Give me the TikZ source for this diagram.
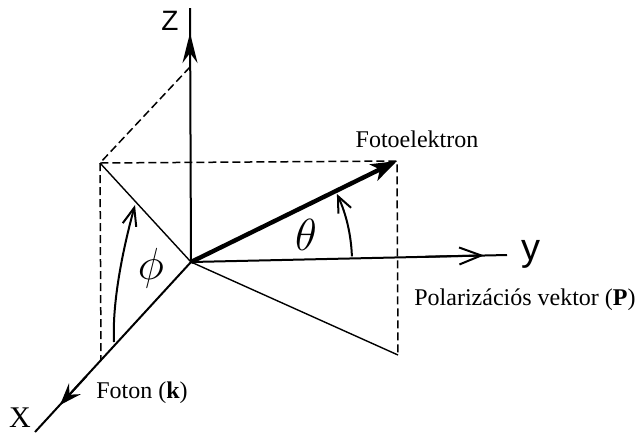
\documentclass[tikz,border=0pt]{standalone}
\usepackage{fontspec}
\setmainfont{Liberation Serif}
\newfontfamily\axfont{Liberation Sans}
\usetikzlibrary{arrows.meta,calc}
\begin{document}
\begin{tikzpicture}[x=0.5pt,y=-0.5pt,
  axis/.style={line width=1pt},
  thinline/.style={line width=0.7pt},
  arcline/.style={line width=1pt},
  dashline/.style={line width=0.75pt, dash pattern=on 4pt off 2pt},
  lbl/.style={font=\fontsize{12}{14}\selectfont, inner sep=0pt},
  axlbl/.style={inner sep=0pt}]
\useasboundingbox (0,0) rectangle (637,436);
% points
\coordinate (O) at (191,262);
\coordinate (ztop) at (190,8);
\coordinate (ztip) at (190,33);
\coordinate (zbase) at (190,62);
\coordinate (xend) at (35,432);
\coordinate (xtip) at (60,405);
\coordinate (yend) at (507,255);
\coordinate (ytip) at (484,255.4);
\coordinate (A) at (100,163);
\coordinate (B) at (397,161);
\coordinate (C) at (398,355);
\coordinate (Ax) at (101,360);
\coordinate (Az) at (190,67);
\coordinate (phis) at (114,342);
\coordinate (phie) at (135,205);
% dashed construction lines
\draw[dashline] (Az) -- (A) -- (B) -- (C);
\draw[dashline] (A) -- (Ax);
% thin projection lines
\draw[thinline] (A) -- (O) -- (C);
% axes
\draw[axis] (O) -- (ztop);
\draw[axis,-{Stealth[length=15pt,width=7.5pt,inset=5pt]}] (zbase) -- (ztip);
\draw[axis] (O) -- (xend);
\draw[axis,-{Stealth[length=11pt,width=8pt,inset=4pt]}] ($(O)!0.8!(xtip)$) -- (xtip);
\draw[axis] (O) -- (yend);
\draw[axis,-{Straight Barb[length=11pt,width=8.5pt]}] ($(O)!0.8!(ytip)$) -- (ytip);
% photoelectron vector
\draw[line width=2.2pt,-{Stealth[length=13pt,width=9pt,inset=3.5pt]}] (O) -- (B);
% angle arcs
\draw[arcline,-{Straight Barb[length=8pt,width=7pt]}] (O) ++(-2:161) arc (-2:-25:161);
\draw[arcline,-{Straight Barb[length=9pt,width=7pt]}] (phis) .. controls (112,300) and (124,245) .. (phie);
% labels
\node[lbl] (fe) at (417,139) {Fotoelektron};
\node[lbl] (fk) at (142,393) {Foton (\textbf{k})};
\node[lbl, anchor=east] (pv) at (636,300) {Polarizációs vektor (\textbf{P})};
\node[axlbl, font=\axfont\fontsize{14}{14}\selectfont] (zl) at (170,21) {Z};
\node[axlbl, font=\fontsize{15}{15}\selectfont] (xl) at (20,418) {X};
\node[axlbl, font=\axfont\fontsize{19}{19}\selectfont] (yl) at (531,254) {y};
\node[axlbl, font=\fontsize{17}{17}\selectfont, scale=1.3] (th) at (306,235) {$\theta$};
\node[axlbl, font=\fontsize{17}{17}\selectfont, scale=1.3] (ph) at (151,268) {$\phi$};
\end{tikzpicture}
\end{document}
